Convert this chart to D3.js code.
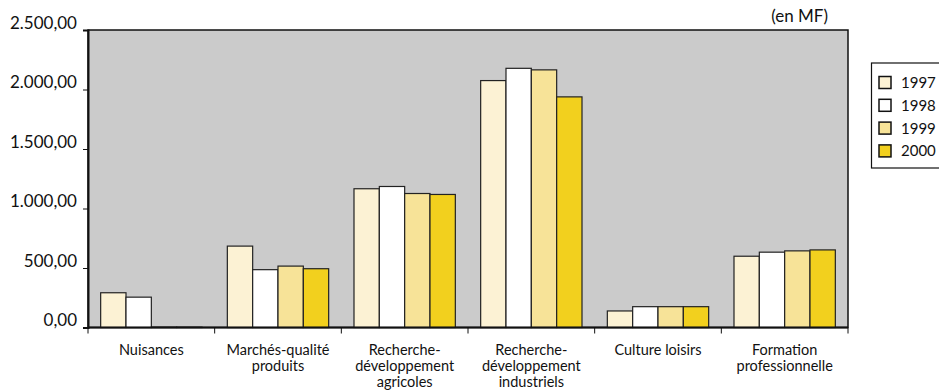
<!DOCTYPE html>
<html>
<head>
<meta charset="utf-8">
<script src="https://cdn.jsdelivr.net/npm/d3@7/dist/d3.min.js"></script>
<style>
  html, body { margin: 0; padding: 0; background: #ffffff; }
  svg { display: block; }
  text { font-family: Lato, "Open Sans", sans-serif; fill: #111; }
</style>
</head>
<body>
<svg id="chart" width="939" height="390"></svg>
<script>
// Budget by domain, in millions of francs
const categories = [
  ["Nuisances"],
  ["Marchés-qualité", "produits"],
  ["Recherche-", "développement", "agricoles"],
  ["Recherche-", "développement", "industriels"],
  ["Culture loisirs"],
  ["Formation", "professionnelle"]
];
const years = ["1997", "1998", "1999", "2000"];
const values1997 = [292, 684, 1166, 2075, 139, 599];
const values1998 = [255, 486, 1185, 2178, 175, 633];
const values1999 = [3, 516, 1126, 2165, 175, 644];
const values2000 = [3, 494, 1118, 1938, 175, 652];
const yTicks = [0, 500, 1000, 1500, 2000, 2500];
const colors = ["#fcf2d4", "#ffffff", "#f7e398", "#f2d01e"];

const series = [values1997, values1998, values1999, values2000];

const svg = d3.select("#chart");
const m = { left: 88, right: 848, top: 30, bottom: 327.5 };

const x0 = d3.scaleBand()
  .domain(d3.range(categories.length))
  .range([m.left, m.right])
  .paddingInner(0).paddingOuter(0);

const x1 = d3.scaleBand()
  .domain(d3.range(years.length))
  .range([0, x0.bandwidth()])
  .paddingInner(0)
  .paddingOuter(0.5);

const y = d3.scaleLinear().domain([0, 2500]).range([m.bottom, m.top]);

const fmt = v => {
  const s = d3.format(",.2f")(v);
  return s.replace(/,/g, "#").replace(/\./g, ",").replace(/#/g, ".");
};

// plot background
svg.append("rect")
  .attr("x", m.left).attr("y", m.top)
  .attr("width", m.right - m.left).attr("height", m.bottom - m.top)
  .attr("fill", "#cbcbcb")
  .attr("stroke", "#111").attr("stroke-width", 1.5);

// bars
const groups = svg.append("g").selectAll("g")
  .data(categories)
  .join("g")
  .attr("transform", (d, i) => `translate(${x0(i)},0)`);

groups.selectAll("rect")
  .data((d, i) => series.map((s, k) => ({ k, v: s[i] })))
  .join("rect")
  .attr("x", d => x1(d.k))
  .attr("y", d => y(d.v))
  .attr("width", x1.bandwidth())
  .attr("height", d => y(0) - y(d.v))
  .attr("fill", d => colors[d.k])
  .attr("stroke", "#222")
  .attr("stroke-width", 1.2);

// y axis
const yAxis = d3.axisLeft(y).tickValues(yTicks).tickFormat(fmt).tickSize(5).tickPadding(6);
const gy = svg.append("g").attr("transform", `translate(${m.left},0)`).call(yAxis);
gy.select(".domain").attr("stroke", "#111").attr("stroke-width", 2);
gy.selectAll(".tick line").attr("stroke", "#111").attr("stroke-width", 1);
gy.selectAll(".tick text")
  .attr("font-size", 17)
  .attr("dy", "-0.1em")
  .style("font-family", "Lato, 'Open Sans', sans-serif")
  .attr("fill", "#111");

// x axis line with ticks between categories
const xBoundaries = d3.range(categories.length + 1).map(i => m.left + i * x0.bandwidth());
svg.append("line")
  .attr("x1", m.left).attr("x2", m.right)
  .attr("y1", m.bottom).attr("y2", m.bottom)
  .attr("stroke", "#111").attr("stroke-width", 2);
svg.append("g").selectAll("line")
  .data(xBoundaries)
  .join("line")
  .attr("x1", d => d).attr("x2", d => d)
  .attr("y1", m.bottom).attr("y2", m.bottom + 6)
  .attr("stroke", "#111").attr("stroke-width", 1);

// category labels
const lab = svg.append("g").selectAll("text")
  .data(categories)
  .join("text")
  .attr("x", (d, i) => x0(i) + x0.bandwidth() / 2)
  .attr("y", 355)
  .attr("text-anchor", "middle")
  .attr("font-size", 14.5);
lab.selectAll("tspan")
  .data(d => d)
  .join("tspan")
  .attr("x", function () { return d3.select(this.parentNode).attr("x"); })
  .attr("dy", (d, j) => j === 0 ? 0 : 16)
  .text(d => d);

// unit
svg.append("text")
  .attr("x", 828).attr("y", 22)
  .attr("text-anchor", "end")
  .attr("font-size", 17)
  .text("(en MF)");

// legend
const lg = svg.append("g");
lg.append("rect")
  .attr("x", 871.5).attr("y", 63)
  .attr("width", 72).attr("height", 105)
  .attr("fill", "#fff").attr("stroke", "#111").attr("stroke-width", 1.2);
const items = lg.selectAll("g.item")
  .data(years)
  .join("g")
  .attr("class", "item")
  .attr("transform", (d, i) => `translate(879,${82.5 + i * 22.8})`);
items.append("rect")
  .attr("x", 0).attr("y", -6)
  .attr("width", 12).attr("height", 12)
  .attr("fill", (d, i) => colors[i])
  .attr("stroke", "#111").attr("stroke-width", 1.5);
items.append("text")
  .attr("x", 22).attr("y", 5.5)
  .attr("font-size", 15)
  .text(d => d);
</script>
</body>
</html>
